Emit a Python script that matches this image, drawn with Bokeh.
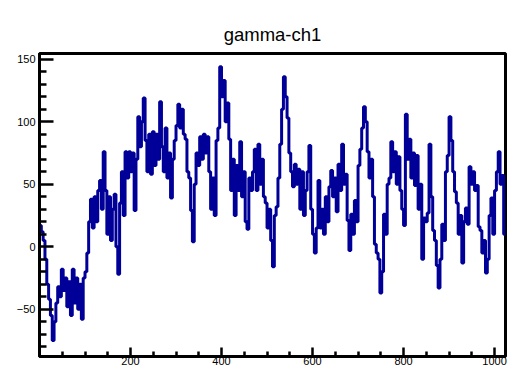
import numpy as np
from bokeh.plotting import figure
from bokeh.models import FixedTicker, Range1d
from bokeh.embed import file_html
from bokeh.resources import INLINE

# channel binning: 256 bins of 4 channels over 0..1024
bin_width = 4
counts = (
    [17, 12, 5, -10, -30, -42, -55, -75, -60, -45, -32, -40, -18, -35, -25, -48]
    + [-28, -55, -18, -45, -25, -50, -30, -58, -25, -20, -5, 20, 38, 15, 40, 20]
    + [45, 53, 30, 76, 45, 10, 40, 5, 30, 42, 0, -22, 35, 60, 25, 76]
    + [55, 76, 60, 75, 29, 70, 104, 80, 100, 119, 85, 60, 90, 58, 92, 65]
    + [90, 70, 116, 80, 60, 95, 55, 75, 39, 70, 85, 97, 114, 95, 110, 90]
    + [86, 60, 55, 29, 4, 50, 75, 65, 88, 70, 90, 75, 88, 60, 30, 55]
    + [25, 85, 95, 144, 120, 133, 100, 115, 86, 45, 70, 25, 65, 45, 84, 40]
    + [60, 20, 14, 55, 45, 60, 78, 45, 82, 50, 70, 40, 35, 15, 30, 5]
    + [-16, 25, 32, 55, 82, 110, 136, 120, 103, 75, 60, 48, 66, 50, 62, 30]
    + [60, 25, 45, 60, 81, 30, 10, -5, 15, 53, 15, 30, 10, 40, 20, 48]
    + [61, 40, 55, 28, 66, 45, 82, 50, 58, 21, -3, 26, 10, 37, 20, 65]
    + [78, 95, 112, 100, 76, 55, 70, 40, 2, -5, -10, -37, -20, 26, 10, 50]
    + [55, 84, 60, 76, 50, 72, 45, 30, 17, 106, 70, 86, 55, 75, 49, 73]
    + [30, 50, -10, 23, 20, 27, 82, 40, 13, 5, -15, -33, -10, 18, 5, 60]
    + [73, 104, 85, 60, 44, 35, 10, 25, -13, 20, 31, 18, 64, 50, 60, 45]
    + [49, 16, 13, -5, 5, -21, -10, 25, 39, 10, 45, 60, 76, 50, 57, 10]
)

x_major = [200, 400, 600, 800, 1000]
x_minor = [50, 100, 150, 250, 300, 350, 450, 500, 550, 650, 700, 750, 850, 900, 950]
y_major = [-50, 0, 50, 100, 150]
y_minor = [v for v in range(-80, 151, 10) if v not in y_major]

title_text = "gamma-ch1"
line_color = "#000099"

edges = np.arange(len(counts) + 1) * bin_width
yvals = list(counts) + [counts[-1]]

p = figure(width=507, height=367, output_backend="svg", toolbar_location=None,
           x_range=Range1d(0, 1024), y_range=Range1d(-87.7, 154.5),
           min_border_left=39, min_border_right=2, min_border_top=53, min_border_bottom=5)

p.step(x=edges, y=yvals, mode="after", line_color=line_color, line_width=3)

p.title.text = title_text
p.title.align = "center"
p.title.text_font = "Liberation Sans"
p.title.text_font_size = "18.5px"
p.title.text_font_style = "normal"
p.title.text_color = "black"
p.title.standoff = 18

p.xgrid.visible = False
p.ygrid.visible = False
p.outline_line_color = "black"
p.outline_line_width = 3
p.background_fill_color = "white"
p.border_fill_color = "white"

p.xaxis.ticker = FixedTicker(ticks=x_major, minor_ticks=x_minor)
p.yaxis.ticker = FixedTicker(ticks=y_major, minor_ticks=y_minor)

for ax in (p.xaxis[0], p.yaxis[0]):
    ax.axis_line_color = "black"
    ax.axis_line_width = 3
    ax.major_tick_line_color = "black"
    ax.major_tick_line_width = 2.5
    ax.minor_tick_line_color = "black"
    ax.minor_tick_line_width = 2.5
    ax.major_tick_out = 0
    ax.minor_tick_out = 0
    ax.major_label_text_font = "Liberation Sans"
    ax.major_label_text_font_size = "11px"
    ax.major_label_text_color = "black"

p.yaxis.major_tick_in = 14
p.yaxis.minor_tick_in = 7
p.yaxis.major_label_standoff = 4
p.xaxis.major_tick_in = 9
p.xaxis.minor_tick_in = 5
p.xaxis.major_label_standoff = 0

open("out.html", "w").write(file_html(p, INLINE))
